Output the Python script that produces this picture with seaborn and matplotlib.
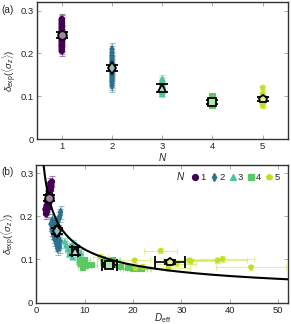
import numpy as np
import pandas as pd
import matplotlib
matplotlib.use("Agg")
import matplotlib.pyplot as plt
import seaborn as sns
from matplotlib.lines import Line2D
from matplotlib.colors import to_rgb

# ---------------- data ----------------
N_values = [1, 2, 3, 4, 5]
colors = ["#440154", "#2c728e", "#4fc2a0", "#5ec962", "#c2df23"]
markers = ["o", "d", "^", "s", "p"]

delta1 = [0.206, 0.211, 0.216, 0.219, 0.223, 0.227, 0.231, 0.236, 0.240,
          0.244, 0.249, 0.253, 0.258, 0.262, 0.267, 0.271, 0.276, 0.280]
D1 = [2.0, 2.2, 1.9, 2.4, 2.1, 2.3, 2.6, 2.2, 2.5, 2.7, 2.4, 2.8, 2.6,
      3.0, 2.7, 3.1, 2.9, 3.2]
xerr1 = [0.15] * len(D1)
yerr1 = [0.013] * len(D1)

delta2 = [0.125, 0.130, 0.134, 0.138, 0.142, 0.146, 0.150, 0.154, 0.158,
          0.162, 0.166, 0.170, 0.174, 0.178, 0.182, 0.186, 0.191, 0.196,
          0.202, 0.210]
D2 = [4.4, 4.8, 4.2, 4.6, 4.9, 3.8, 4.3, 3.6, 4.1, 3.4, 4.5, 3.2, 3.9,
      3.5, 3.0, 4.0, 3.3, 4.7, 4.9, 5.0]
xerr2 = [0.25] * len(D2)
yerr2 = [0.015] * len(D2)

delta3 = [0.106, 0.110, 0.113, 0.116, 0.119, 0.121, 0.124, 0.127, 0.130,
          0.134, 0.138, 0.142]
D3 = [7.5, 8.8, 6.8, 9.2, 7.2, 8.0, 6.5, 8.3, 7.0, 6.2, 7.6, 5.9]
xerr3 = [0.5] * len(D3)
yerr3 = [0.008] * len(D3)

delta4 = [0.095, 0.090, 0.082, 0.098, 0.086, 0.087, 0.101, 0.093, 0.098,
          0.088, 0.078, 0.079, 0.079, 0.081, 0.083]
D4 = [9.0, 9.3, 9.6, 10.0, 10.2, 11.5, 13.8, 14.5, 15.8, 16.3, 20.0,
      20.8, 21.7, 19.0, 17.5]
xerr4 = [0.8, 0.8, 0.9, 1.0, 1.0, 1.0, 1.3, 1.4, 1.5, 1.6, 2.0, 2.0, 2.1,
         1.8, 1.7]
yerr4 = [0.005] * len(D4)

delta5 = [0.106, 0.092, 0.098, 0.080, 0.120, 0.080, 0.098, 0.096, 0.098,
          0.101, 0.082, 0.083, 0.090]
D5 = [13.3, 16.0, 20.3, 20.5, 25.7, 27.3, 31.6, 32.0, 37.5, 38.5, 44.4,
      22.0, 29.0]
xerr5 = [1.5, 2.0, 3.2, 3.0, 3.4, 4.4, 5.5, 5.0, 6.0, 6.6, 7.3, 2.5, 4.0]
yerr5 = [0.006] * len(D5)

mean_delta = [0.243, 0.165, 0.120, 0.087, 0.094]
mean_yerr = [0.007, 0.007, 0.009, 0.005, 0.005]
mean_D = [2.55, 4.3, 8.0, 15.1, 27.6]
mean_xerr = [0.3, 0.35, 0.7, 1.6, 3.1]

fit_a = 0.39
fit_b = 0.5

groups = [(D1, delta1, xerr1, yerr1), (D2, delta2, xerr2, yerr2),
          (D3, delta3, xerr3, yerr3), (D4, delta4, xerr4, yerr4),
          (D5, delta5, xerr5, yerr5)]

rows = []
for n, (D, d, xe, ye) in zip(N_values, groups):
    for i in range(len(D)):
        rows.append(dict(N=n, D=D[i], delta=d[i], xerr=xe[i], yerr=ye[i]))
df = pd.DataFrame(rows)

# ---------------- style ----------------
sns.set_theme(style="ticks")
plt.rcParams["font.family"] = ["Liberation Sans", "DejaVu Sans"]
plt.rcParams["mathtext.fontset"] = "custom"
plt.rcParams["mathtext.rm"] = "Liberation Sans"
plt.rcParams["mathtext.it"] = "Liberation Sans:italic"
plt.rcParams["mathtext.bf"] = "Liberation Sans:bold"

palette = dict(zip(N_values, colors))
mk = dict(zip(N_values, markers))

def light(c, f=0.5):
    r = np.array(to_rgb(c))
    return tuple(r * f + (1 - f))

fig = plt.figure(figsize=(2.91, 3.24), dpi=100)
ax_a = fig.add_axes([0.126, 0.570, 0.863, 0.424])
ax_b = fig.add_axes([0.125, 0.066, 0.864, 0.426])

ylab = r"$\delta_{\rm exp}(\langle\sigma_z\rangle)$"
FS = 6.8

# ---------------- panel a ----------------
for n in N_values:
    sub = df[df.N == n]
    ax_a.errorbar(sub.N, sub.delta, yerr=sub.yerr, fmt="none",
                  ecolor=palette[n], alpha=0.45, elinewidth=0.8, capsize=2.2,
                  capthick=0.8, zorder=1)
sns.scatterplot(data=df, x="N", y="delta", hue="N", style="N",
                palette=palette, markers=mk, s=22, linewidth=0,
                legend=False, ax=ax_a, zorder=2)
for i, n in enumerate(N_values):
    ax_a.errorbar([n], [mean_delta[i]], yerr=[mean_yerr[i]], fmt=markers[i],
                  ms=6.2, mfc=light(colors[i]), mec="black", mew=1.3,
                  ecolor="black", elinewidth=1.2, capsize=4, capthick=1.3,
                  zorder=5)
ax_a.set_xlim(0.5, 5.5)
ax_a.set_ylim(0, 0.32)
ax_a.set_xticks(N_values)
ax_a.set_yticks([0, 0.1, 0.2, 0.3])
ax_a.set_yticklabels(["0", "0.1", "0.2", "0.3"])
ax_a.set_xlabel(r"$N$", fontsize=7.2)
ax_a.set_ylabel(ylab, fontsize=FS)
ax_a.xaxis.set_label_coords(0.5, -0.085)
ax_a.yaxis.set_label_coords(-0.072, 0.5)

# ---------------- panel b ----------------
for n in N_values:
    sub = df[df.N == n]
    ax_b.errorbar(sub.D, sub.delta, xerr=sub.xerr, yerr=sub.yerr, fmt="none",
                  ecolor=palette[n], alpha=0.45, elinewidth=0.8, capsize=2.2,
                  capthick=0.8, zorder=1)
sns.scatterplot(data=df, x="D", y="delta", hue="N", style="N",
                palette=palette, markers=mk, s=22, linewidth=0,
                legend=False, ax=ax_b, zorder=2)
xfit = np.linspace(1.0, 52, 400)
ax_b.plot(xfit, fit_a * xfit ** (-fit_b), color="black", lw=1.5, zorder=4)
for i, n in enumerate(N_values):
    ax_b.errorbar([mean_D[i]], [mean_delta[i]], xerr=[mean_xerr[i]],
                  yerr=[mean_yerr[i]], fmt=markers[i],
                  ms=6.2, mfc=light(colors[i]), mec="black", mew=1.3,
                  ecolor="black", elinewidth=1.2, capsize=4, capthick=1.3,
                  zorder=5)
ax_b.set_xlim(0, 52)
ax_b.set_ylim(0, 0.32)
ax_b.set_xticks([0, 10, 20, 30, 40, 50])
ax_b.set_yticks([0, 0.1, 0.2, 0.3])
ax_b.set_yticklabels(["0", "0.1", "0.2", "0.3"])
ax_b.set_xlabel(r"$D_{\rm eff}$", fontsize=7.2)
ax_b.set_ylabel(ylab, fontsize=FS)
ax_b.xaxis.set_label_coords(0.5, -0.06)
ax_b.yaxis.set_label_coords(-0.072, 0.5)

handles = [Line2D([], [], ls="none", marker=markers[i], color=colors[i],
                  ms=4.2) for i in range(5)]
leg = ax_b.legend(handles, [str(n) for n in N_values], ncol=5,
                  loc="upper right", bbox_to_anchor=(0.995, 0.985), frameon=False,
                  fontsize=FS, handlelength=0.6, handletextpad=0.25,
                  columnspacing=0.55, borderaxespad=0.3)
ax_b.text(0.575, 0.915, r"$N$", transform=ax_b.transAxes, fontsize=7.2,
          ha="center", va="center")

for ax in (ax_a, ax_b):
    ax.tick_params(direction="in", length=3, width=0.7, color="#aaaaaa",
                   labelsize=FS, pad=2.2, top=True, right=True, labelcolor="#222222")
    for s in ax.spines.values():
        s.set_color("#333333")
        s.set_linewidth(1.0)

fig.text(0.005, 0.968, "(a)", fontsize=7.2, ha="left", va="center")
fig.text(0.005, 0.468, "(b)", fontsize=7.2, ha="left", va="center")

fig.savefig("out.png", dpi=100)
